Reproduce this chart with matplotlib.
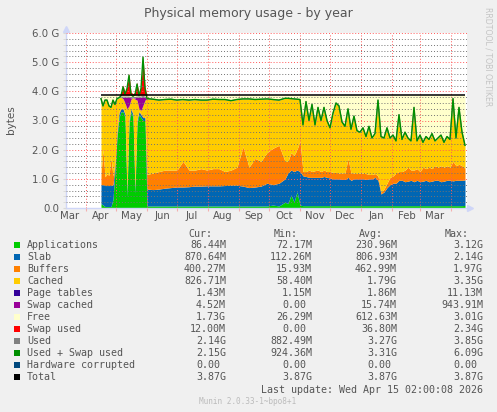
import numpy as np
import matplotlib
matplotlib.use("Agg")
import matplotlib.pyplot as plt
import matplotlib.dates as mdates
from matplotlib.ticker import FixedLocator, NullFormatter, FixedFormatter
from matplotlib.patches import Rectangle

# ---------------- data (GB), sample days counted from 2025-04-16 ----------------
day = [0, 2, 4, 6, 8, 10, 12, 14, 16, 18, 20, 22, 24, 26, 28, 30, 32, 34, 36, 38, 40, 42, 44,
       46, 52, 58, 64, 70, 76, 82, 88, 94, 100, 106, 112, 118, 124, 130, 136, 142, 148, 154, 160,
       166, 172, 178, 184,
       187, 190, 193, 196, 199, 202, 205, 208, 211, 214, 217, 220, 223, 226, 229, 232, 235, 238,
       241, 244, 247, 250, 253, 256, 259, 262, 265, 268, 271, 274, 277, 280, 283, 286, 289, 292,
       295, 298, 301, 304, 307, 310, 313, 316, 319, 322, 325, 328, 331, 334, 337, 340, 343, 346,
       349, 352, 355, 358, 361, 364]

apps = [0.15, 0.10, 0.05, 0.05, 0.05, 0.05, 0.30, 1.30, 2.40, 3.10, 3.30, 3.30, 3.10, 0.40, 2.90,
        3.30, 3.10, 0.50, 2.90, 3.20, 3.10, 3.00, 3.00,
        0.07, 0.07, 0.07, 0.07, 0.07, 0.07, 0.07, 0.07, 0.07, 0.07, 0.07, 0.07, 0.07, 0.07, 0.07,
        0.07, 0.07, 0.07, 0.07, 0.07, 0.07, 0.10, 0.07, 0.20,
        0.15, 0.45, 0.20, 0.55, 0.10, 0.08, 0.08, 0.08, 0.08, 0.08, 0.08, 0.08, 0.08, 0.08, 0.08,
        0.08, 0.08, 0.08, 0.08, 0.08, 0.08, 0.08, 0.08, 0.08, 0.08, 0.08, 0.08, 0.08, 0.08, 0.08,
        0.08, 0.08, 0.08, 0.08, 0.08, 0.08, 0.08, 0.08, 0.08, 0.08, 0.08, 0.08, 0.08, 0.08, 0.08,
        0.08, 0.08, 0.08, 0.08, 0.08, 0.08, 0.08, 0.08, 0.08, 0.08, 0.08, 0.08, 0.08, 0.08, 0.09]

slab = [0.65, 0.70, 0.72, 0.72, 0.72, 0.72, 0.50, 0.15, 0.15, 0.15, 0.10, 0.10, 0.10, 0.15, 0.10,
        0.10, 0.10, 0.15, 0.10, 0.10, 0.10, 0.10, 0.10,
        0.58, 0.56, 0.58, 0.61, 0.63, 0.65, 0.65, 0.66, 0.68, 0.68, 0.69, 0.69, 0.69, 0.70, 0.71,
        0.71, 0.68, 0.63, 0.65, 0.68, 0.78, 0.70, 0.78, 0.80,
        1.05, 0.85, 1.05, 0.75, 1.15, 1.02, 1.00, 0.97, 0.97, 0.97, 0.97, 0.97, 1.00, 0.97, 0.95,
        0.92, 0.92, 0.92, 0.90, 0.90, 0.97, 0.87, 0.92, 0.92, 0.92, 0.92, 0.90, 0.92, 0.92, 0.97,
        0.87, 0.40, 0.47, 0.62, 0.72, 0.77, 0.77, 0.87, 0.87, 0.82, 0.84, 0.87, 0.82, 0.87, 0.82,
        0.84, 0.87, 0.82, 0.84, 0.87, 0.87, 0.82, 0.84, 0.87, 0.87, 0.85, 0.87, 0.87, 0.87, 0.87]

buffers = [0.35, 1.20, 0.30, 0.40, 0.35, 0.95, 0.30, 0.10, 0.05, 0.05, 0.03, 0.03, 0.03, 0.05, 0.03,
           0.03, 0.03, 0.05, 0.03, 0.03, 0.03, 0.03, 0.03,
           0.50, 0.57, 0.60, 0.62, 0.60, 0.58, 0.88, 0.57, 0.55, 0.60, 0.54, 0.59, 0.59, 0.48, 0.52,
           0.62, 1.35, 0.70, 0.98, 0.85, 1.05, 1.25, 1.30, 0.60,
           0.40, 0.60, 0.55, 0.70, 1.05, 0.15, 0.17, 0.25, 0.20, 0.23, 0.25, 0.20, 0.22, 0.20, 0.22,
           0.22, 0.22, 0.20, 0.22, 0.22, 0.65, 0.25, 0.20, 0.18, 0.20, 0.20, 0.20, 0.15, 0.15, 0.13,
           0.15, 0.07, 0.10, 0.15, 0.25, 0.25, 0.35, 0.30, 0.30, 0.40, 0.48, 0.35, 0.40, 0.40, 0.35,
           0.48, 0.40, 0.50, 0.43, 0.50, 0.45, 0.55, 0.48, 0.50, 0.45, 0.67, 0.50, 0.55, 0.50, 0.40]

cached = [2.60, 1.50, 2.63, 2.53, 2.38, 1.73, 2.60, 2.00, 1.15, 0.48, 0.37, 0.32, 0.37, 2.80, 0.47,
          0.30, 0.55, 3.03, 0.67, 0.07, 0.12, 0.39, 0.57,
          2.60, 2.53, 2.45, 2.42, 2.43, 2.40, 2.12, 2.40, 2.42, 2.35, 2.40, 2.38, 2.37, 2.47, 2.38,
          2.32, 1.64, 2.34, 2.02, 2.13, 1.84, 1.67, 1.55, 2.16,
          2.16, 1.85, 1.94, 1.73, 1.42, 1.60, 2.40, 1.70, 2.30, 1.57, 2.15, 1.75, 2.15, 1.75, 1.50,
          2.03, 2.38, 2.30, 1.75, 1.60, 1.70, 1.50, 1.95, 1.47, 1.40, 1.55, 1.27, 1.65, 1.25, 1.37,
          2.60, 1.90, 1.75, 1.90, 1.35, 1.40, 1.10, 1.95, 1.10, 1.30, 1.00, 1.00, 2.15, 0.95, 1.25,
          0.85, 1.10, 0.95, 1.20, 0.85, 1.00, 1.05, 0.85, 1.00, 0.95, 2.15, 0.95, 1.95, 1.15, 0.79]

# swap activity only during the first 23 samples (Apr-May 2025); zero afterwards
swap_cached_early = [0, 0, 0, 0, 0, 0, 0, 0, 0, 0, 0, 0.05, 0.20, 0.40, 0.30, 0.05, 0, 0.05, 0.10,
                     0.40, 0.45, 0.30, 0.10]
swap_used_early = [0, 0, 0, 0, 0, 0, 0, 0, 0, 0, 0.05, 0.35, 0.10, 0.30, 0.75, 0.10, 0.05, 0.10,
                   0.45, 0.05, 0.30, 1.35, 0.30]

total_gb = 3.87

month_starts = ['2025-04-01', '2025-05-01', '2025-06-01', '2025-07-01', '2025-08-01', '2025-09-01',
                '2025-10-01', '2025-11-01', '2025-12-01', '2026-01-01', '2026-02-01', '2026-03-01',
                '2026-04-01']
month_mids = ['2025-03-16', '2025-04-16', '2025-05-16', '2025-06-16', '2025-07-16', '2025-08-16',
              '2025-09-16', '2025-10-16', '2025-11-16', '2025-12-16', '2026-01-16', '2026-02-16',
              '2026-03-16']
month_names = ['Mar', 'Apr', 'May', 'Jun', 'Jul', 'Aug', 'Sep', 'Oct', 'Nov', 'Dec', 'Jan', 'Feb', 'Mar']
y_ticks = [0, 1, 2, 3, 4, 5, 6]
y_labels = ['0.0', '1.0 G', '2.0 G', '3.0 G', '4.0 G', '5.0 G', '6.0 G']

legend_names = ['Applications', 'Slab', 'Buffers', 'Cached', 'Page tables', 'Swap cached', 'Free',
                'Swap used', 'Used', 'Used + Swap used', 'Hardware corrupted', 'Total']
legend_colors = ['#00CC00', '#0066B3', '#FF8000', '#FFCC00', '#330099', '#990099', '#FFFFCC',
                 '#FF0000', '#808080', '#008F00', '#00487D', '#000000']
cur_vals = ['86.44M', '870.64M', '400.27M', '826.71M', '1.43M', '4.52M', '1.73G', '12.00M',
            '2.14G', '2.15G', '0.00', '3.87G']
min_vals = ['72.17M', '112.26M', '15.93M', '58.40M', '1.15M', '0.00', '26.29M', '0.00',
            '882.49M', '924.36M', '0.00', '3.87G']
avg_vals = ['230.96M', '806.93M', '462.99M', '1.79G', '1.86M', '15.74M', '612.63M', '36.80M',
            '3.27G', '3.31G', '0.00', '3.87G']
max_vals = ['3.12G', '2.14G', '1.97G', '3.35G', '11.13M', '943.91M', '3.01G', '2.34G',
            '3.85G', '6.09G', '0.00', '3.87G']

# ---------------- figure ----------------
W, H = 497, 412
FONT = '#555555'
fig = plt.figure(figsize=(W / 100, H / 100), dpi=100, facecolor='#F0F0F0')


def fx(px):
    return px / W


def fy(py):
    return 1 - py / H


ax = fig.add_axes([fx(66), fy(208), (467 - 66) / W, (208 - 33) / H])
ax.set_facecolor('white')

start = np.datetime64('2025-04-16')
t = mdates.date2num(start + np.array(day).astype('timedelta64[D]'))
n = len(day)

A = np.array(apps, float)
S = np.array(slab, float)
B = np.array(buffers, float)
C = np.array(cached, float)
SC = np.zeros(n)
SC[:len(swap_cached_early)] = swap_cached_early
SW = np.zeros(n)
SW[:len(swap_used_early)] = swap_used_early

base = np.zeros(n)
for L, col in zip([A, S, B, C, SC], ['#00CC00', '#0066B3', '#FF8000', '#FFCC00', '#990099']):
    ax.fill_between(t, base, base + L, color=col, lw=0, zorder=1)
    base = base + L
used = base
ax.fill_between(t, used, total_gb, color='#FFFFCC', lw=0, zorder=1)
ax.fill_between(t, total_gb, total_gb + SW, color='#FF0000', lw=0, zorder=1)

ax.plot(t, used, color='#808080', lw=0.8, zorder=3)
ax.plot(t, used + SW, color='#008F00', lw=1.0, zorder=4)
ax.hlines(total_gb, t[0], t[-1], color='black', lw=1.1, zorder=5)

ax.set_xlim(mdates.date2num(np.datetime64('2025-03-12')), mdates.date2num(np.datetime64('2026-04-17')))
ax.set_ylim(0, 6.0)

starts_num = mdates.date2num(np.array(month_starts, dtype='datetime64[D]'))
mids_num = mdates.date2num(np.array(month_mids, dtype='datetime64[D]'))
ax.xaxis.set_major_locator(FixedLocator(starts_num))
ax.xaxis.set_major_formatter(NullFormatter())
ax.xaxis.set_minor_locator(FixedLocator(mids_num))
ax.xaxis.set_minor_formatter(FixedFormatter(month_names))
ax.tick_params(axis='x', which='major', length=2, color='#F4B0B0')
ax.tick_params(axis='x', which='minor', length=0, pad=2.5, labelsize=7.3, labelcolor=FONT)

ax.set_yticks(y_ticks)
ax.set_yticklabels(y_labels)
ax.set_yticks(np.round(np.arange(0, 6.01, 0.2), 1), minor=True)
ax.tick_params(axis='y', which='both', length=2, color='#D8D8D8', pad=3, labelsize=7.3, labelcolor=FONT)

ax.set_axisbelow(False)
ax.grid(which='major', axis='both', color=(1.0, 0.35, 0.35, 0.35), linestyle=(0, (1, 2)), lw=0.7)
ax.grid(which='minor', axis='y', color=(0.45, 0.45, 0.45, 0.25), linestyle=(0, (1, 2)), lw=0.7)

for s in ['top', 'right']:
    ax.spines[s].set_visible(False)
for s in ['left', 'bottom']:
    ax.spines[s].set_color('#CFD6F8')
    ax.spines[s].set_linewidth(1.0)
ax.plot([0], [1.025], marker='^', color='#CFD6F8', ms=4, transform=ax.transAxes, clip_on=False)
ax.plot([1.008], [0], marker='>', color='#CFD6F8', ms=4, transform=ax.transAxes, clip_on=False)

# ---------------- texts ----------------
fig.text(0.5, fy(14), 'Physical memory usage - by year', ha='center', va='center',
         fontsize=9, color=FONT)
fig.text(fx(11), fy(120), 'bytes', rotation=90, ha='center', va='center', fontsize=7.5, color=FONT)
fig.text(fx(488), fy(57), 'RRDTOOL / TOBI OETIKER', rotation=270, ha='center', va='center',
         fontsize=5.6, color='#C4C4C4')

MONO = 'DejaVu Sans Mono'
FS = 7.2
col_right = [226, 312, 397, 483]
headers = ['Cur:', 'Min:', 'Avg:', 'Max:']
for h, xr in zip(headers, col_right):
    fig.text(fx(xr - 14), fy(234), h, ha='right', va='center', family=MONO, fontsize=FS, color=FONT)

for i, name in enumerate(legend_names):
    yc = 245.3 + 12 * i
    fig.patches.append(Rectangle((fx(14), fy(yc + 3)), 6 / W, 6 / H, transform=fig.transFigure,
                                 facecolor=legend_colors[i], edgecolor='none'))
    fig.text(fx(27), fy(yc), name, ha='left', va='center', family=MONO, fontsize=FS, color=FONT)
    for vals, xr in zip([cur_vals, min_vals, avg_vals, max_vals], col_right):
        v = vals[i]
        xe = xr if v[-1].isalpha() else xr - 6
        fig.text(fx(xe), fy(yc), v, ha='right', va='center', family=MONO, fontsize=FS, color=FONT)

fig.text(fx(483), fy(389.7), 'Last update: Wed Apr 15 02:00:08 2026', ha='right', va='center',
         family=MONO, fontsize=FS, color=FONT)
fig.text(fx(248), fy(401.3), 'Munin 2.0.33-1~bpo8+1', ha='center', va='center', family=MONO,
         fontsize=5.6, color='#BBBBBB')

fig.savefig('out.png', dpi=100, facecolor=fig.get_facecolor())
